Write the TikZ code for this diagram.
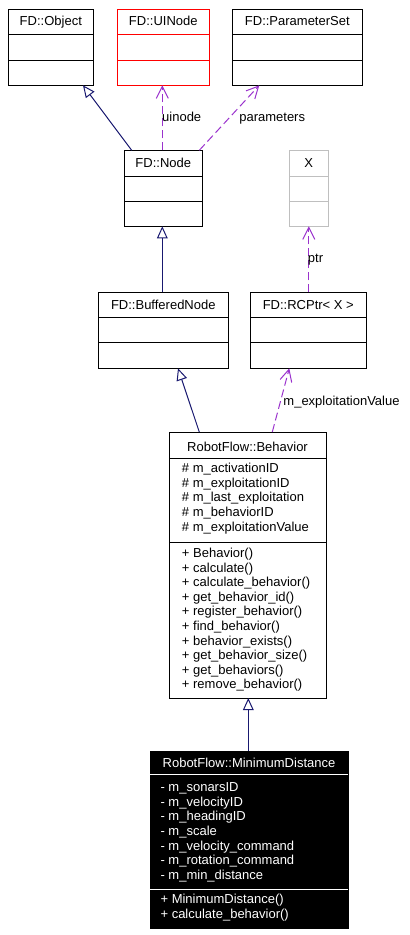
\documentclass[tikz,border=0pt]{standalone}
\usepackage{fontspec}
\setmainfont{Liberation Sans}
\usetikzlibrary{arrows.meta,calc}

\definecolor{inheritblue}{HTML}{191970}
\definecolor{usepurple}{HTML}{9A32CD}
\definecolor{undocred}{HTML}{FF0000}
\definecolor{tmplgray}{HTML}{BFBFBF}

\newcommand{\classfont}{\fontsize{9.75}{10.95}\selectfont}

\tikzset{
  classbox/.style 2 args={draw, line width=0.75pt, inner sep=0pt, outer sep=0pt,
    anchor=north west, minimum width=#1*0.75pt, minimum height=#2*0.75pt},
  classtitle/.style={inner sep=0pt, anchor=base, font=\classfont},
  member/.style={inner sep=0pt, anchor=base west, font=\classfont},
  edgelabel/.style={inner sep=0pt, anchor=base, font=\classfont},
  sepline/.style={line width=0.75pt},
  inherit/.style={inheritblue, line width=0.75pt, -{Triangle[open, length=9pt, width=8pt]}},
  uses/.style={usepurple, line width=0.75pt, dash pattern=on 6pt off 3pt,
    -{Straight Barb[length=9pt, width=9pt]}},
}

\begin{document}
\begin{tikzpicture}[x=0.75pt, y=-0.75pt]
        \useasboundingbox (0,0) rectangle (410,935);

        % Draw class boxes
        \node[classbox={85}{76}] (object) at (8.3,9.3) {};
        \node[classbox={92}{76}, undocred] (uinode) at (117.3,9.3) {};
        \node[classbox={130}{76}] (paramset) at (232.3,9.3) {};
        \node[classbox={78}{76}] (node) at (124.3,150.3) {};
        \node[classbox={39}{76}, tmplgray] (xtmpl) at (289.3,150.3) {};
        \node[classbox={130}{76}] (buffered) at (98.3,292.3) {};
        \node[classbox={116}{76}] (rcptr) at (250.3,292.3) {};
        \node[classbox={157}{266}] (behavior) at (169,432) {};
        \node[classbox={198}{177}, fill=black] (mindist) at (150,751) {};

        % Draw separators
        \draw[sepline] (object.north west) ++(0,25) -- ++(85,0) (object.north west) ++(0,51) -- ++(85,0);
        \draw[sepline, undocred] (uinode.north west) ++(0,25) -- ++(92,0) (uinode.north west) ++(0,51) -- ++(92,0);
        \draw[sepline] (paramset.north west) ++(0,25) -- ++(130,0) (paramset.north west) ++(0,51) -- ++(130,0);
        \draw[sepline] (node.north west) ++(0,26) -- ++(78,0) (node.north west) ++(0,51) -- ++(78,0);
        \draw[sepline, tmplgray] (xtmpl.north west) ++(0,26) -- ++(39,0) (xtmpl.north west) ++(0,51) -- ++(39,0);
        \draw[sepline] (buffered.north west) ++(0,25) -- ++(130,0) (buffered.north west) ++(0,50.5) -- ++(130,0);
        \draw[sepline] (rcptr.north west) ++(0,25) -- ++(116,0) (rcptr.north west) ++(0,50.5) -- ++(116,0);
        \draw[sepline] (behavior.north west) ++(0,26) -- ++(157,0) (behavior.north west) ++(0,110) -- ++(157,0);
        \draw[sepline, white] (mindist.north west) ++(0,23.3) -- ++(198,0) (mindist.north west) ++(0,138) -- ++(198,0);

        % Class names
        \node[classtitle] (objecttitle) at (50.8,26) {FD::Object};
        \node[classtitle] (uinodetitle) at (163.3,26) {FD::UINode};
        \node[classtitle] (paramsettitle) at (297.3,26) {FD::ParameterSet};
        \node[classtitle] (nodetitle) at (163.3,167.5) {FD::Node};
        \node[classtitle] (xtmpltitle) at (308.8,167.5) {X};
        \node[classtitle] (bufferedtitle) at (163.3,309.5) {FD::BufferedNode};
        \node[classtitle] (rcptrtitle) at (308.3,309.5) {FD::RCPtr< X >};
        \node[classtitle] (behaviortitle) at (247.5,451) {RobotFlow::Behavior};
        \node[classtitle, text=white] (mindisttitle) at (249,767) {RobotFlow::MinimumDistance};

        % Members
        \foreach \m [count=\i from 0] in {\# m\_activationID, \# m\_exploitationID, \# m\_last\_exploitation,
            \# m\_behaviorID, \# m\_exploitationValue}
            \node[member] (behattr\i) at (181.7,{472.7+14.6*\i}) {\m};
        \foreach \m [count=\i from 0] in {+ Behavior(), + calculate(), + calculate\_behavior(),
            + get\_behavior\_id(), + register\_behavior(), + find\_behavior(), + behavior\_exists(),
            + get\_behavior\_size(), + get\_behaviors(), + remove\_behavior()}
            \node[member] (behop\i) at (181.7,{557.5+14.6*\i}) {\m};
        \foreach \m [count=\i from 0] in {- m\_sonarsID, - m\_velocityID, - m\_headingID, - m\_scale,
            - m\_velocity\_command, - m\_rotation\_command, - m\_min\_distance}
            \node[member, text=white] (mdattr\i) at (160.3,{791.7+14.6*\i}) {\m};
        \foreach \m [count=\i from 0] in {+ MinimumDistance(), + calculate\_behavior()}
            \node[member, text=white] (mdop\i) at (160.3,{903.5+14.6*\i}) {\m};

        % Draw connectors
        \draw[inherit] ($(node.north west)+(7.4,0)$) -- ($(object.south west)+(74.7,0)$);
        \draw[uses] ($(node.north west)+(38,0)$) -- ($(uinode.south west)+(45,0)$);
        \draw[uses] ($(node.north west)+(75,0)$) -- ($(paramset.south west)+(27,0)$);
        \draw[inherit] ($(buffered.north west)+(64,0)$) -- ($(node.south west)+(38,0)$);
        \draw[uses] ($(rcptr.north west)+(58.5,0)$) -- (xtmpl.south);
        \draw[inherit] ($(behavior.north west)+(30.3,0)$) -- ($(buffered.south west)+(79.7,0)$);
        \draw[uses] ($(behavior.north west)+(103.3,0)$) -- ($(rcptr.south west)+(39,0)$);
        \draw[inherit] ($(mindist.north west)+(98.3,0)$) -- ($(behavior.south west)+(79.3,0)$);

        % Connector labels
        \node[edgelabel] (uinodelabel) at (181.7,121) {uinode};
        \node[edgelabel] (paramlabel) at (272.2,121) {parameters};
        \node[edgelabel] (ptrlabel) at (315.5,262) {ptr};
        \node[edgelabel] (explabel) at (341.5,405) {m\_exploitationValue};
\end{tikzpicture}
\end{document}
